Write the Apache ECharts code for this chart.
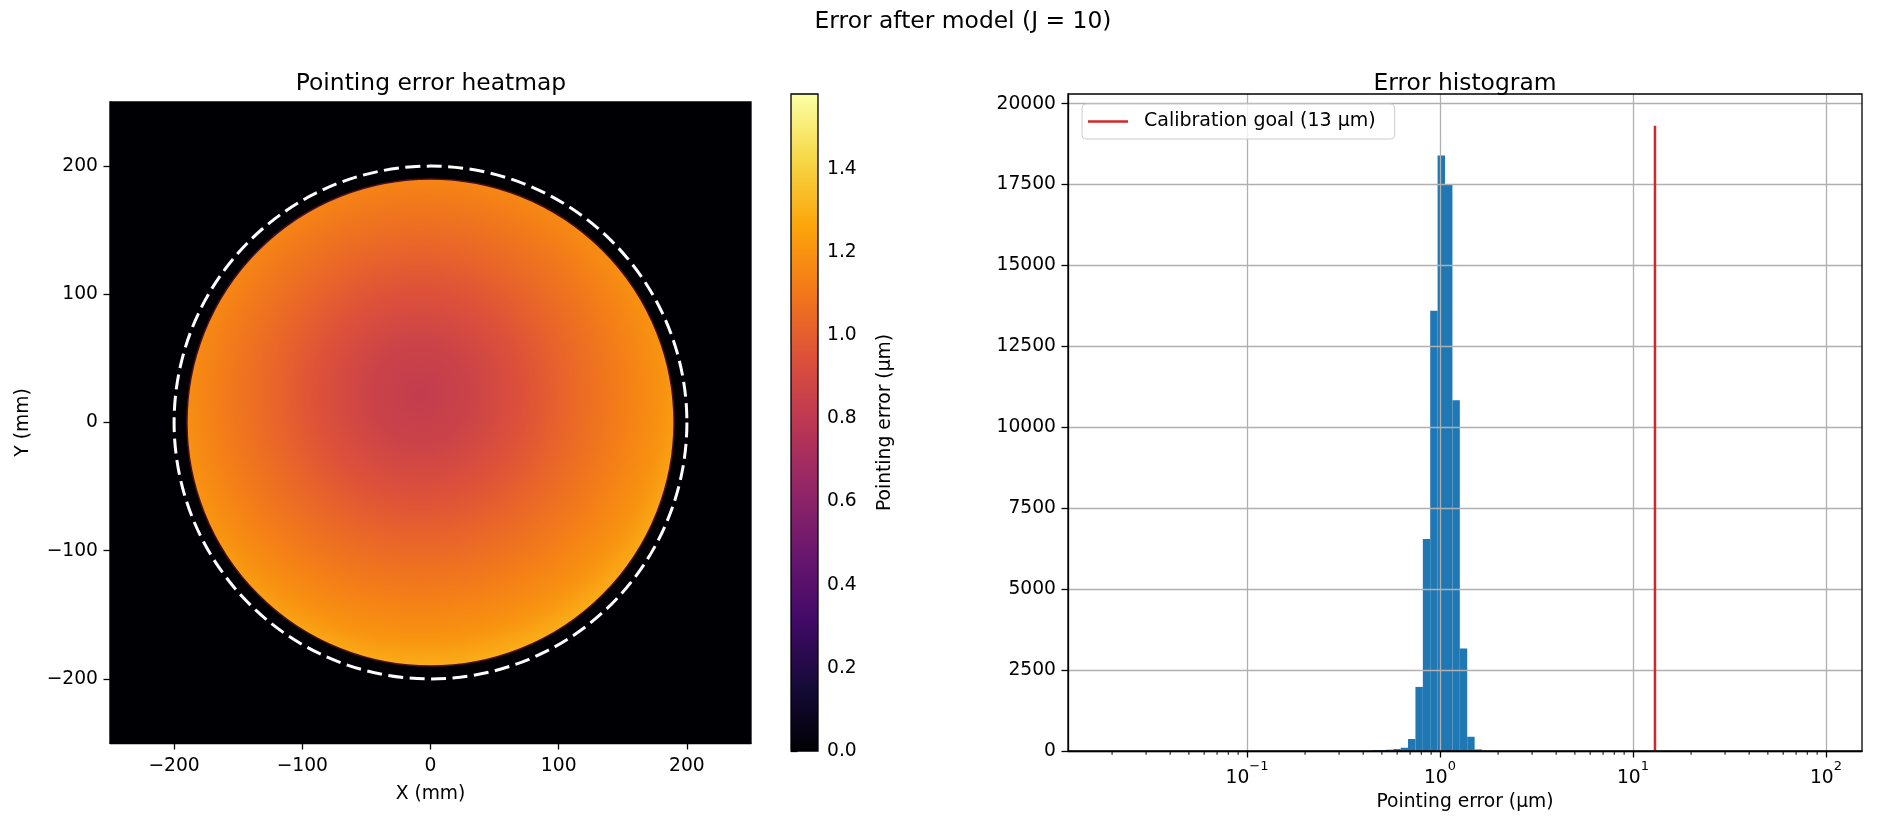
<!DOCTYPE html>
<html><head><meta charset="utf-8">
<script src="https://cdn.jsdelivr.net/npm/echarts@6/dist/echarts.min.js"></script>
<style>html,body{margin:0;padding:0;background:#fff}#c{width:1880px;height:821px}</style>
</head><body><div id="c"></div>
<script>
// ---------------- data ----------------
const supTitle = 'Error after model (J = 10)';
const heatTitle = 'Pointing error heatmap';
const histTitle = 'Error histogram';
const heatTicks = [-200, -100, 0, 100, 200];
const heatExtent = [-250, 250];
const diskCircle = [0, 0, 190];          // measured area: centre x, y and radius (mm)
const goalCircle = [0, 0, 200];          // dashed circle: centre x, y and radius (mm)
const profileCenter = [-8, 22];          // location of the smallest error (mm)
const profileRadius = [0, 40, 80, 120, 160, 190, 215];          // mm from profileCenter
const profileValue  = [0.82, 0.86, 0.95, 1.04, 1.13, 1.20, 1.30]; // µm
const colorbarMax = 1.58;
const colorbarTicks = [0, 0.2, 0.4, 0.6, 0.8, 1.0, 1.2, 1.4];
const binLo = [0.440, 0.480, 0.524, 0.573, 0.626, 0.683, 0.746, 0.815, 0.890, 0.972, 1.062, 1.160, 1.267, 1.384, 1.512, 1.652];
const binHi = [0.480, 0.524, 0.573, 0.626, 0.683, 0.746, 0.815, 0.890, 0.972, 1.062, 1.160, 1.267, 1.384, 1.512, 1.652, 1.805];
const binCount = [25, 30, 40, 60, 100, 370, 1980, 6550, 13600, 18400, 17490, 10840, 3170, 440, 50, 8];
const histYTicks = [0, 2500, 5000, 7500, 10000, 12500, 15000, 17500, 20000];
const histYMax = 20300;
const histXTicks = [0.1, 1, 10, 100];
const histXMinor = [0.02, 0.03, 0.04, 0.05, 0.06, 0.07, 0.08, 0.09,
                    0.2, 0.3, 0.4, 0.5, 0.6, 0.7, 0.8, 0.9,
                    2, 3, 4, 5, 6, 7, 8, 9,
                    20, 30, 40, 50, 60, 70, 80, 90];
const histXExtent = [0.01182, 153.7];
const goalName = 'Calibration goal (13 µm)';
const goalValue = 13;
const goalLineTop = 19320;

// ---------------- styling helpers ----------------
const FONT = 'DejaVu Sans';
const FS = 18.7;
const INFERNO = ['#000004','#160b39','#420a68','#6a176e','#932667','#bc3754','#dd513a','#f37819','#fca50a','#f6d746','#fcffa4'];
function hex(h){return [1,3,5].map(i=>parseInt(h.substr(i,2),16));}
function inferno(t){
  t = Math.max(0, Math.min(1, t));
  const x = t * (INFERNO.length - 1);
  const i = Math.min(INFERNO.length - 2, Math.floor(x));
  const f = x - i;
  const a = hex(INFERNO[i]), b = hex(INFERNO[i+1]);
  const c = a.map((v,k)=>Math.round(v + (b[k]-v)*f));
  return 'rgb(' + c.join(',') + ')';
}
const minus = v => String(v).replace('-', '\u2212');
const txt = {fontFamily: FONT, fontSize: FS, color: '#000'};

const chart = echarts.init(document.getElementById('c'), null, {renderer: 'canvas'});

const option = {
  animation: false,
  backgroundColor: '#fff',
  textStyle: {fontFamily: FONT},
  title: [
    {text: supTitle, left: 963, top: 10, textAlign: 'center', padding: 0,
     textStyle: {fontFamily: FONT, fontSize: 23.4, fontWeight: 'normal', color: '#000'}},
    {text: heatTitle, left: 431, top: 72, textAlign: 'center', padding: 0,
     textStyle: {fontFamily: FONT, fontSize: 23.4, fontWeight: 'normal', color: '#000'}},
    {text: histTitle, left: 1465, top: 72, textAlign: 'center', padding: 0,
     textStyle: {fontFamily: FONT, fontSize: 23.4, fontWeight: 'normal', color: '#000'}}
  ],
  legend: {
    data: [{name: goalName, icon: 'rect'}], left: 1082, top: 104, orient: 'vertical',
    itemWidth: 40, itemHeight: 2.6, padding: [8, 19, 8, 6],
    backgroundColor: 'rgba(255,255,255,0.8)', borderColor: '#cccccc', borderWidth: 1, borderRadius: 4,
    textStyle: {fontFamily: FONT, fontSize: 19, color: '#000', padding: [0, 0, 0, 11]},
    z: 10, selectedMode: false
  },
  grid: [
    {left: 110, top: 102, width: 641, height: 641, show: true, backgroundColor: '#000004', borderColor: '#000', borderWidth: 1.3, z: 0},
    {left: 791, top: 94, width: 27, height: 657, show: true, backgroundColor: 'transparent', borderColor: '#000', borderWidth: 1.3, z: 8},
    {left: 1068, top: 94, width: 794, height: 657, show: true, backgroundColor: 'transparent', borderColor: '#000', borderWidth: 1.3, z: 8}
  ],
  xAxis: [
    {gridIndex: 0, type: 'value', min: heatExtent[0], max: heatExtent[1],
     axisLine: {show: true, onZero: false, lineStyle: {color: '#000', width: 1.3}},
     axisTick: {show: true, length: 6.5, customValues: heatTicks, lineStyle: {color: '#000', width: 1.3}},
     axisLabel: {customValues: heatTicks, margin: 14, formatter: minus, ...txt},
     splitLine: {show: false},
     name: 'X (mm)', nameLocation: 'middle', nameGap: 42, nameTextStyle: {...txt}},
    {gridIndex: 1, type: 'value', min: 0, max: 1, show: false},
    {gridIndex: 2, type: 'log', logBase: 10, min: histXExtent[0], max: histXExtent[1], z: 3,
     axisLine: {show: true, onZero: false, lineStyle: {color: '#000', width: 1.3}},
     axisTick: {show: true, length: 6.5, customValues: histXTicks, lineStyle: {color: '#000', width: 1.3}},
     axisLabel: {customValues: histXTicks, margin: 9,
       formatter: v => { const e = Math.round(Math.log10(v)); return '{b|10}{s|' + minus(e) + '}'; },
       rich: {b: {fontFamily: FONT, fontSize: FS, color: '#000', lineHeight: 28, verticalAlign: 'bottom'},
              s: {fontFamily: FONT, fontSize: 13, color: '#000', lineHeight: 14, verticalAlign: 'top'}}},
     splitLine: {show: true, lineStyle: {color: '#b0b0b0', width: 1.3}},
     name: 'Pointing error (µm)', nameLocation: 'middle', nameGap: 28, nameTextStyle: {...txt}}
  ],
  yAxis: [
    {gridIndex: 0, type: 'value', min: heatExtent[0], max: heatExtent[1],
     axisLine: {show: true, onZero: false, lineStyle: {color: '#000', width: 1.3}},
     axisTick: {show: true, length: 6.5, customValues: heatTicks, lineStyle: {color: '#000', width: 1.3}},
     axisLabel: {customValues: heatTicks, margin: 12, formatter: minus, ...txt},
     splitLine: {show: false},
     name: 'Y (mm)', nameLocation: 'middle', nameGap: 77, nameRotate: 90, nameTextStyle: {...txt}},
    {gridIndex: 1, type: 'value', min: 0, max: colorbarMax, position: 'right',
     axisLine: {show: false},
     axisTick: {show: true, length: 6.5, customValues: colorbarTicks, lineStyle: {color: '#000', width: 1.3}},
     axisLabel: {customValues: colorbarTicks, margin: 9, formatter: v => v.toFixed(1), ...txt},
     splitLine: {show: false},
     name: 'Pointing error (µm)', nameLocation: 'middle', nameGap: 58, nameRotate: 90, nameTextStyle: {...txt}},
    {gridIndex: 2, type: 'value', min: 0, max: histYMax, interval: 2500, z: 3,
     axisLine: {show: true, onZero: false, lineStyle: {color: '#000', width: 1.3}},
     axisTick: {show: true, length: 6.5, customValues: histYTicks, lineStyle: {color: '#000', width: 1.3}},
     axisLabel: {customValues: histYTicks, margin: 12, formatter: v => String(v), ...txt},
     splitLine: {show: true, lineStyle: {color: '#b0b0b0', width: 1.3}}}
  ],
  series: [
    { // error map disk
      type: 'custom', xAxisIndex: 0, yAxisIndex: 0, z: 2,
      data: [diskCircle], encode: {x: 0, y: 1},
      renderItem: (params, api) => {
        const c = api.coord([api.value(0), api.value(1)]);
        const r = api.size([api.value(2), 0])[0];
        const g = api.coord(profileCenter);
        const rMax = profileRadius[profileRadius.length - 1];
        const gr = api.size([rMax, 0])[0];
        const stops = profileRadius.map((d, i) => ({offset: d / rMax, color: inferno(profileValue[i] / colorbarMax)}));
        return {type: 'circle', shape: {cx: c[0], cy: c[1], r: r},
          style: {fill: new echarts.graphic.RadialGradient(g[0], g[1], gr, stops, true), stroke: '#4a0d22', lineWidth: 1.5}};
      }
    },
    { // dashed reference circle
      type: 'custom', xAxisIndex: 0, yAxisIndex: 0, z: 3,
      data: [goalCircle], encode: {x: 0, y: 1},
      renderItem: (params, api) => {
        const c = api.coord([api.value(0), api.value(1)]);
        const r = api.size([api.value(2), 0])[0];
        return {type: 'circle', shape: {cx: c[0], cy: c[1], r: r},
          style: {fill: null, stroke: '#ffffff', lineWidth: 3, lineDash: [15, 6.5]}};
      }
    },
    { // colorbar
      type: 'custom', xAxisIndex: 1, yAxisIndex: 1, z: 2,
      data: [[0, 1, 0, colorbarMax]], encode: {x: [0, 1], y: [2, 3]},
      renderItem: (params, api) => {
        const p0 = api.coord([api.value(0), api.value(2)]);
        const p1 = api.coord([api.value(1), api.value(3)]);
        const stops = INFERNO.map((col, i) => ({offset: i / (INFERNO.length - 1), color: col}));
        return {type: 'rect', shape: {x: p0[0], y: p1[1], width: p1[0] - p0[0], height: p0[1] - p1[1]},
          style: {fill: new echarts.graphic.LinearGradient(0, p0[1], 0, p1[1], stops, true)}};
      }
    },
    { // histogram bars
      type: 'custom', xAxisIndex: 2, yAxisIndex: 2, z: 2,
      data: binLo.map((lo, i) => [lo, binHi[i], binCount[i]]), encode: {x: [0, 1], y: 2},
      renderItem: (params, api) => {
        const a = api.coord([api.value(0), api.value(2)]);
        const b = api.coord([api.value(1), 0]);
        return {type: 'rect', shape: {x: a[0], y: a[1], width: b[0] - a[0], height: b[1] - a[1]},
          style: {fill: '#1f77b4'}};
      }
    },
    { // minor ticks of the log axis
      type: 'custom', xAxisIndex: 2, yAxisIndex: 2, z: 4, clip: false, silent: true,
      data: histXMinor.map(v => [v, 0]), encode: {x: 0, y: 1},
      renderItem: (params, api) => {
        const p = api.coord([api.value(0), api.value(1)]);
        return {type: 'line', shape: {x1: p[0], y1: p[1], x2: p[0], y2: p[1] + 3.8},
          style: {stroke: '#000', lineWidth: 1}};
      }
    },
    { // calibration goal
      type: 'line', name: goalName, xAxisIndex: 2, yAxisIndex: 2, z: 5,
      data: [[goalValue, 0], [goalValue, goalLineTop]],
      symbol: 'none', lineStyle: {color: '#d62728', width: 2.5}, itemStyle: {color: '#d62728'}
    }
  ]
};
chart.setOption(option);
</script>
</body></html>
